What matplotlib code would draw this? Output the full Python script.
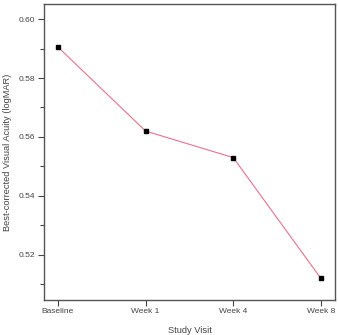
import matplotlib.pyplot as plt
from matplotlib.ticker import MultipleLocator

visits = ['Baseline', 'Week 1', 'Week 4', 'Week 8']
bcva = [0.5905, 0.562, 0.553, 0.512]

plt.rcParams['font.family'] = ['Liberation Sans', 'DejaVu Sans']

fig = plt.figure(figsize=(3.38, 3.35), dpi=100)
ax = fig.add_axes([0.130, 0.1045, 0.861, 0.8835])

x = list(range(len(visits)))
ax.plot(x, bcva, color='#e5728c', lw=0.8, zorder=2)
ax.plot(x, bcva, ls='none', marker='s', ms=3, color='black', zorder=3)

ax.set_xlim(-0.16, 3.16)
ax.set_ylim(0.5047, 0.6051)
ax.set_xticks(x)
ax.set_xticklabels(visits)
ax.yaxis.set_major_locator(MultipleLocator(0.02))
ax.yaxis.set_minor_locator(MultipleLocator(0.01))
ax.yaxis.set_major_formatter(plt.FormatStrFormatter('%.2f'))

ax.tick_params(axis='both', which='major', direction='out', length=4, width=0.8,
               labelsize=6, colors='#444444', pad=2)
ax.tick_params(axis='y', which='minor', direction='out', length=3, width=0.8, colors='#444444')
for s in ax.spines.values():
    s.set_color('#555555')
    s.set_linewidth(1.0)

ax.set_ylabel('Best-corrected Visual Acuity (logMAR)', fontsize=6.7, color='#444444', labelpad=5)
ax.set_xlabel('Study Visit', fontsize=6.7, color='#444444', labelpad=8)

fig.savefig('out.png', dpi=100)
